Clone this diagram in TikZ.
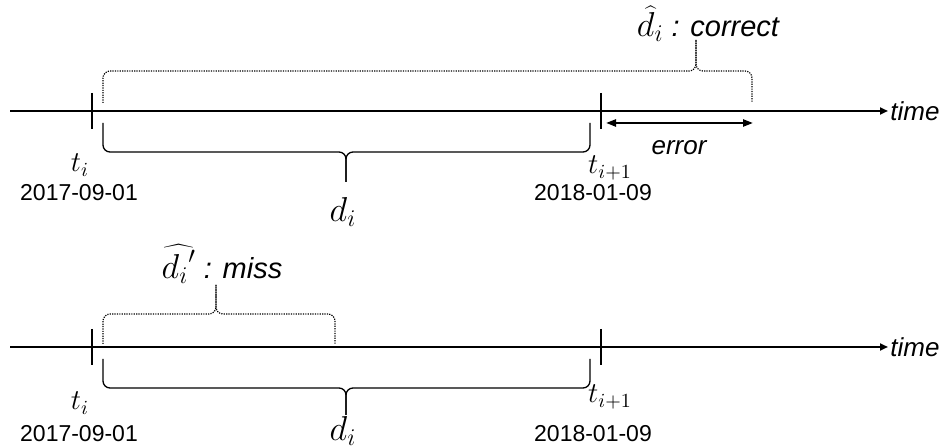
\documentclass[tikz,border=0pt]{standalone}
\usepackage{fontspec}
\setmainfont{Liberation Sans}
\usetikzlibrary{arrows.meta}
\tikzset{
  axis/.style={line width=1.1pt,-{Triangle[length=4pt,width=3.5pt]}},
  tickmark/.style={line width=1.1pt},
  errarrow/.style={line width=1.1pt,{Triangle[length=5pt,width=3.5pt]}-{Triangle[length=5pt,width=3.5pt]}},
  solidbrace/.style={line width=0.65pt,rounded corners=3.5pt},
  dotbrace/.style={line width=0.6pt,dash pattern=on 0.6pt off 0.6pt,rounded corners=3.5pt},
  word/.style={font=\fontsize{13}{15}\selectfont\itshape,inner sep=1pt},
  bigword/.style={font=\fontsize{14.5}{17}\selectfont\itshape,inner sep=1pt},
  date/.style={font=\fontsize{11.5}{13}\selectfont,inner sep=1pt},
  tlab/.style={font=\fontsize{14}{16}\selectfont,inner sep=1pt},
  dlab/.style={font=\fontsize{17}{19}\selectfont,inner sep=0pt},
}
\newcommand{\hatmath}[1]{{\fontsize{17}{19}\selectfont$#1$}}
\begin{document}
\begin{tikzpicture}[x=0.5pt,y=-0.5pt]
        \useasboundingbox (0,0) rectangle (943,448);
        % upper time line
        \coordinate (S1) at (10,111);
        \node[word,anchor=west] (T1) at (888,111) {time};
        \draw[axis] (S1) -- (T1);
        \draw[tickmark] (92,93) -- (92,129);
        \draw[tickmark] (601,93) -- (601,129);
        
        \node[tlab] (A1) at (80,165) {$t_i$};
        \node[date] (D1) at (79,193) {2017-09-01};
        \node[tlab] (B1) at (610,168) {$t_{i+1}$};
        \node[date] (E1) at (593,193) {2018-01-09};
        
        \draw[solidbrace] (103,123) |- (346,152) -- (346,182);
        \draw[solidbrace] (346,182) -- (346,152) -| (590,123);
        \node[dlab] (L1) at (343,212) {$d_i$};
        
        \draw[dotbrace] (103,103) |- (696,71) -- (696,40);
        \draw[dotbrace] (696,40) -- (696,71) -| (752,102);
        \node[bigword] (H1) at (708,24) {\hatmath{\widehat{d}_i} : correct};
        
        \coordinate (R1) at (606,123);
        \coordinate (R2) at (753,123);
        \draw[errarrow] (R1) -- (R2);
        \node[word] (W1) at (679,148) {error};
        
        % lower time line
        \coordinate (S2) at (10,347);
        \node[word,anchor=west] (T2) at (888,347) {time};
        \draw[axis] (S2) -- (T2);
        \draw[tickmark] (92,329) -- (92,365);
        \draw[tickmark] (601,329) -- (601,365);
        
        \node[tlab] (A2) at (80,403) {$t_i$};
        \node[date] (D2) at (79,434) {2017-09-01};
        \node[tlab] (B2) at (610,397) {$t_{i+1}$};
        \node[date] (E2) at (593,434) {2018-01-09};
        
        \draw[solidbrace] (103,359) |- (346,388) -- (346,415);
        \draw[solidbrace] (346,415) -- (346,388) -| (590,359);
        \node[dlab] (L2) at (343,431) {$d_i$};
        
        \draw[dotbrace] (103,344) |- (216,314) -- (216,285);
        \draw[dotbrace] (216,285) -- (216,314) -| (335,344);
        \node[bigword] (H2) at (222,264) {\hatmath{\widehat{{d_i}'}} : miss};
      \end{tikzpicture}
\end{document}
